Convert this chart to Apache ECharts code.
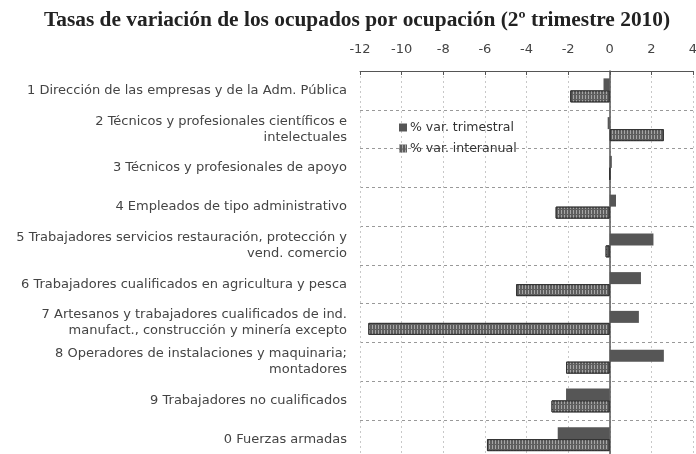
<!DOCTYPE html>
<html>
<head>
<meta charset="utf-8">
<script src="https://cdn.jsdelivr.net/npm/echarts@6/dist/echarts.min.js"></script>
<style>
  html, body { margin: 0; padding: 0; background: #fff; }
  #chart { width: 696px; height: 454px; }
</style>
</head>
<body>
<div id="chart"></div>
<script>
// categorias (ocupaciones), de arriba abajo
const categories = [
  '1 Dirección de las empresas y de la Adm. Pública',
  '2 Técnicos y profesionales científicos e\nintelectuales',
  '3 Técnicos y profesionales de apoyo',
  '4 Empleados de tipo administrativo',
  '5 Trabajadores servicios restauración, protección y\nvend. comercio',
  '6 Trabajadores cualificados en agricultura y pesca',
  '7 Artesanos y trabajadores cualificados de ind.\nmanufact., construcción y minería excepto',
  '8 Operadores de instalaciones y maquinaria;\nmontadores',
  '9 Trabajadores no cualificados',
  '0 Fuerzas armadas'
]

const varTrimestral = [-0.3, -0.1, 0.1, 0.3, 2.1, 1.5, 1.4, 2.6, -2.1, -2.5]
const varInteranual = [-1.9, 2.6, 0, -2.6, -0.2, -4.5, -11.6, -2.1, -2.8, -5.9]

const seriesNames = ['% var. trimestral', '% var. interanual']
const xTicks = { min: -12, max: 4, interval: 2 }

const labelFont = '"DejaVu Sans", sans-serif'

const chart = echarts.init(document.getElementById('chart'))

chart.setOption({
  backgroundColor: '#fff',
  animation: false,
  title: {
    text: 'Tasas de variación de los ocupados por ocupación (2º trimestre 2010)',
    left: 352,
    textAlign: 'center',
    top: 5,
    textStyle: {
      fontFamily: '"Liberation Serif", serif',
      fontWeight: 'bold',
      fontSize: 21.4,
      color: '#222'
    }
  },
  legend: {
    orient: 'vertical',
    left: 394,
    top: 116,
    icon: 'rect',
    itemWidth: 8,
    itemHeight: 8,
    itemGap: 8,
    itemStyle: { borderWidth: 0 },
    textStyle: { fontFamily: labelFont, fontSize: 12.5, color: '#333', padding: [0, 0, 0, -2] },
    data: seriesNames
  },
  grid: { left: 360, right: 3, top: 71, bottom: -4.5, containLabel: false, outerBoundsMode: 'none' },
  xAxis: {
    type: 'value',
    position: 'top',
    min: xTicks.min,
    max: xTicks.max,
    interval: xTicks.interval,
    axisLine: { show: true, lineStyle: { color: '#555', width: 1 } },
    axisTick: { show: true, inside: true, length: 4, lineStyle: { color: '#555' } },
    axisLabel: { margin: 15, fontFamily: labelFont, fontSize: 13, color: '#444' },
    splitLine: { show: true, lineStyle: { color: '#c8c8c8', type: [2, 3], width: 1 } }
  },
  yAxis: [
    {
      // eje en el cero, solo la linea
      type: 'category',
      inverse: true,
      data: categories,
      axisLine: { show: true, onZero: true, lineStyle: { color: '#555', width: 1.5 } },
      axisTick: { show: false },
      axisLabel: { show: false },
      splitLine: { show: true, lineStyle: { color: '#999', type: [3, 3], width: 1 } }
    },
    {
      // etiquetas de categorias a la izquierda
      type: 'category',
      inverse: true,
      position: 'left',
      data: categories,
      axisLine: { show: false, onZero: false },
      axisTick: { show: false },
      axisLabel: {
        margin: 13,
        fontFamily: labelFont,
        fontSize: 13,
        lineHeight: 16,
        color: '#444',
        align: 'right'
      },
      splitLine: { show: false }
    }
  ],
  series: [
    {
      name: seriesNames[0],
      type: 'bar',
      yAxisIndex: 0,
      data: varTrimestral,
      barWidth: 12,
      barGap: '0%',
      itemStyle: { color: '#565656' }
    },
    {
      name: seriesNames[1],
      type: 'bar',
      yAxisIndex: 0,
      data: varInteranual,
      barWidth: 12,
      barGap: '0%',
      itemStyle: {
        color: '#5e5e5e',
        borderColor: '#333',
        borderWidth: 1,
        decal: {
          symbol: 'rect',
          symbolSize: 1,
          color: 'rgba(255,255,255,0.45)',
          dashArrayX: [[1, 2]],
          dashArrayY: [4, 1],
          rotation: 0
        }
      }
    }
  ]
})
</script>
</body>
</html>
